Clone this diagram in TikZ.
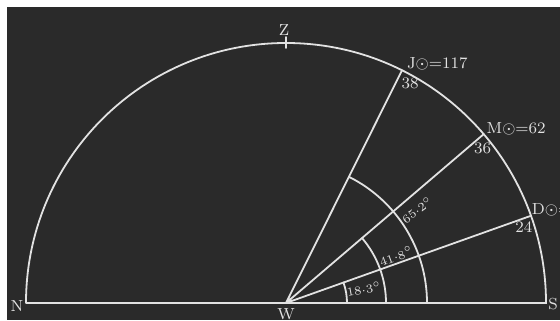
\documentclass[tikz,border=0pt]{standalone}
\usepackage{amsmath}
\usetikzlibrary{positioning,calc}
\definecolor{slate}{RGB}{42,42,42}
\definecolor{chalk}{RGB}{226,226,226}

\begin{document}
\begin{tikzpicture}[x=0.5pt,y=0.5pt,
        every node/.style = {inner sep=0pt,outer sep=0pt,text=chalk,font=\fontsize{8}{9}\selectfont},
        chalkline/.style = {draw=chalk,line width=0.9pt,line cap=round},
        anglelabel/.style = {font=\fontsize{6.5}{7}\selectfont},
        ]
        \useasboundingbox[fill=white] (-286,-17) rectangle (274,303);
        \fill[slate] (-279,-17) rectangle (274,296);
        % horizon and meridian circle
        \coordinate (W) at (0,0);
        \coordinate (N) at (-260,0);
        \coordinate (S) at (260,0);
        \coordinate (Z) at (0,260);
        \coordinate (J) at (63.5:260);
        \coordinate (M) at (40.5:260);
        \coordinate (D) at (19.6:260);
        \draw[chalkline] (N) -- (S) arc (0:180:260);
        \draw[chalkline] ($(Z)+(0,-5)$) -- ($(Z)+(0,6)$);
        \draw[chalkline] (W) -- (J) (W) -- (M) (W) -- (D);
        % arcs of the angles
        \draw[chalkline] (61,0) arc (0:19.6:61);
        \draw[chalkline] (100,0) arc (0:40.5:100);
        \draw[chalkline] (141,0) arc (0:63.5:141);
        \node (lbl-Z) at ($(Z)+(-2,13)$) {Z};
        \node (lbl-W) at ($(W)+(0,-11)$) {W};
        \node (lbl-N) at ($(N)+(-9,-3)$) {N};
        \node (lbl-S) at ($(S)+(7,-1)$) {S};
        \node[anchor=west] (lbl-J) at ($(J)+(5,6)$) {J$\odot${=}117};
        \node (alt-J) at ($(J)+(8,-13)$) {38};
        \node[anchor=west] (lbl-M) at ($(M)+(3,5)$) {M$\odot${=}62};
        \node (alt-M) at ($(M)+(-1,-14)$) {36};
        \node[anchor=west] (lbl-D) at ($(D)+(1,6)$) {D$\odot${=}7};
        \node (alt-D) at ($(D)+(-7,-11)$) {24};
        \node[anglelabel,rotate=10] (ang-D) at (78,14) {$18{\cdot}3^\circ$};
        \node[anglelabel,rotate=20] (ang-M) at (110,47) {$41{\cdot}8^\circ$};
        \node[anglelabel,rotate=36] (ang-J) at (131,93) {$65{\cdot}2^\circ$};
    \end{tikzpicture}
\end{document}
